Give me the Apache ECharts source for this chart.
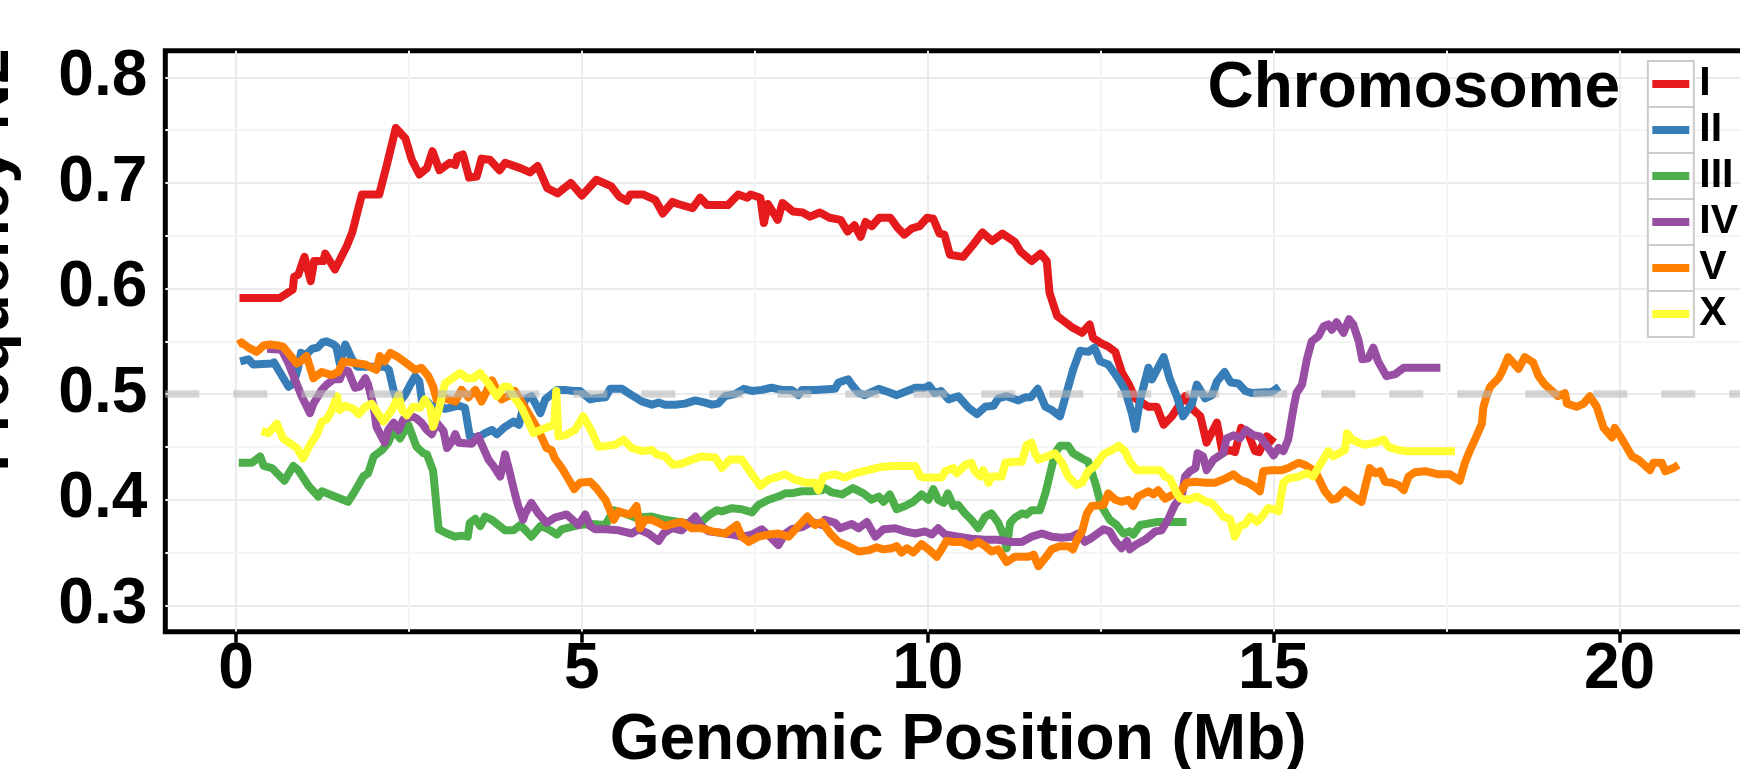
<!DOCTYPE html>
<html>
<head>
<meta charset="utf-8">
<script src="https://cdn.jsdelivr.net/npm/echarts@6/dist/echarts.min.js"></script>
<style>
html,body{margin:0;padding:0;background:#ffffff;}
#chart{width:1740px;height:769px;}
</style>
</head>
<body>
<div id="chart"></div>
<script>
// ---------------- DATA ----------------
const chromosomes = ['I', 'II', 'III', 'IV', 'V', 'X'];
const palette = ['#E41A1C', '#377EB8', '#4DAF4A', '#984EA3', '#FF7F00', '#FFFF33'];

// [genomic position (Mb), frequency N2]
const chrI = [[0.05,0.591],[0.63,0.591],[0.82,0.599],[0.84,0.611],[0.90,0.613],[0.99,0.630],[1.08,0.607],[1.13,0.626],[1.26,0.626],[1.29,0.633],[1.43,0.618],[1.60,0.640],[1.68,0.653],[1.82,0.689],[2.07,0.689],[2.18,0.717],[2.31,0.752],[2.45,0.742],[2.54,0.722],[2.65,0.708],[2.76,0.714],[2.84,0.730],[2.94,0.712],[3.09,0.719],[3.17,0.717],[3.20,0.725],[3.28,0.727],[3.37,0.705],[3.48,0.706],[3.55,0.723],[3.67,0.722],[3.81,0.712],[3.89,0.719],[4.11,0.714],[4.25,0.710],[4.36,0.716],[4.50,0.695],[4.65,0.690],[4.84,0.700],[5.00,0.688],[5.21,0.703],[5.42,0.697],[5.54,0.687],[5.65,0.683],[5.70,0.689],[5.89,0.689],[6.06,0.684],[6.17,0.671],[6.31,0.682],[6.39,0.680],[6.60,0.676],[6.71,0.686],[6.81,0.679],[7.11,0.679],[7.26,0.689],[7.39,0.686],[7.44,0.689],[7.58,0.686],[7.63,0.662],[7.69,0.680],[7.83,0.665],[7.90,0.681],[8.05,0.673],[8.19,0.672],[8.30,0.668],[8.44,0.672],[8.58,0.667],[8.74,0.665],[8.84,0.654],[8.94,0.660],[9.03,0.649],[9.10,0.663],[9.19,0.659],[9.30,0.667],[9.46,0.667],[9.57,0.657],[9.66,0.651],[9.77,0.657],[9.88,0.659],[9.99,0.667],[10.08,0.666],[10.17,0.652],[10.24,0.651],[10.32,0.632],[10.51,0.630],[10.65,0.641],[10.79,0.653],[10.93,0.645],[11.08,0.652],[11.26,0.644],[11.34,0.635],[11.50,0.626],[11.63,0.633],[11.72,0.626],[11.76,0.596],[11.87,0.574],[12.01,0.567],[12.09,0.563],[12.23,0.558],[12.34,0.566],[12.39,0.553],[12.51,0.548],[12.61,0.545],[12.71,0.540],[12.81,0.520],[12.90,0.510],[13.00,0.496],[13.19,0.488],[13.31,0.488],[13.41,0.471],[13.53,0.479],[13.72,0.498],[13.84,0.485],[13.94,0.479],[14.03,0.454],[14.18,0.473],[14.26,0.445],[14.37,0.447],[14.44,0.445],[14.53,0.468],[14.63,0.463],[14.73,0.446],[14.79,0.445],[14.90,0.460],[15.01,0.454]];

const chrII = [[0.06,0.531],[0.18,0.533],[0.25,0.528],[0.52,0.529],[0.55,0.530],[0.64,0.520],[0.76,0.507],[0.83,0.510],[0.89,0.523],[0.94,0.539],[1.01,0.537],[1.10,0.543],[1.18,0.544],[1.25,0.549],[1.31,0.550],[1.41,0.547],[1.45,0.545],[1.50,0.529],[1.58,0.547],[1.67,0.534],[1.75,0.526],[1.96,0.526],[2.15,0.526],[2.21,0.523],[2.28,0.503],[2.35,0.492],[2.44,0.499],[2.52,0.509],[2.59,0.517],[2.65,0.512],[2.69,0.492],[2.76,0.493],[2.83,0.488],[2.93,0.490],[3.02,0.486],[3.22,0.489],[3.31,0.487],[3.38,0.460],[3.50,0.459],[3.60,0.463],[3.70,0.466],[3.77,0.462],[3.89,0.469],[4.01,0.474],[4.09,0.471],[4.18,0.495],[4.27,0.498],[4.40,0.482],[4.47,0.495],[4.64,0.504],[4.76,0.504],[4.88,0.503],[4.97,0.503],[5.12,0.495],[5.19,0.496],[5.34,0.497],[5.41,0.505],[5.58,0.505],[5.72,0.499],[5.87,0.493],[6.01,0.490],[6.11,0.492],[6.20,0.490],[6.35,0.490],[6.49,0.491],[6.64,0.494],[6.78,0.492],[6.88,0.490],[6.97,0.491],[7.07,0.498],[7.21,0.500],[7.34,0.505],[7.46,0.503],[7.60,0.504],[7.74,0.506],[7.89,0.504],[8.03,0.504],[8.13,0.499],[8.18,0.504],[8.37,0.504],[8.66,0.505],[8.71,0.511],[8.85,0.514],[8.90,0.509],[9.00,0.501],[9.09,0.499],[9.29,0.505],[9.43,0.502],[9.55,0.499],[9.70,0.503],[9.82,0.506],[9.96,0.506],[10.02,0.508],[10.10,0.501],[10.19,0.503],[10.30,0.495],[10.44,0.498],[10.59,0.487],[10.71,0.481],[10.83,0.488],[10.95,0.489],[11.02,0.496],[11.14,0.498],[11.31,0.494],[11.41,0.497],[11.49,0.497],[11.59,0.505],[11.70,0.488],[11.79,0.485],[11.91,0.479],[11.98,0.495],[12.10,0.523],[12.20,0.541],[12.32,0.540],[12.41,0.544],[12.49,0.531],[12.61,0.528],[12.76,0.514],[12.85,0.504],[12.95,0.482],[13.00,0.467],[13.07,0.495],[13.19,0.525],[13.24,0.514],[13.41,0.535],[13.50,0.514],[13.60,0.498],[13.69,0.479],[13.82,0.491],[13.89,0.509],[14.01,0.496],[14.11,0.499],[14.18,0.512],[14.29,0.521],[14.38,0.511],[14.49,0.510],[14.59,0.503],[14.68,0.501],[14.97,0.502],[15.08,0.507]];

const chrIII = [[0.04,0.435],[0.23,0.435],[0.35,0.441],[0.40,0.432],[0.52,0.430],[0.70,0.418],[0.83,0.432],[0.90,0.428],[1.05,0.413],[1.19,0.403],[1.24,0.408],[1.62,0.398],[1.70,0.406],[1.77,0.414],[1.84,0.422],[1.91,0.425],[1.99,0.441],[2.11,0.447],[2.20,0.454],[2.28,0.466],[2.37,0.458],[2.49,0.471],[2.61,0.450],[2.71,0.444],[2.76,0.443],[2.85,0.427],[2.93,0.372],[3.05,0.368],[3.17,0.365],[3.26,0.366],[3.35,0.365],[3.38,0.378],[3.46,0.382],[3.53,0.375],[3.60,0.384],[3.70,0.381],[3.89,0.371],[4.01,0.371],[4.11,0.376],[4.20,0.370],[4.27,0.365],[4.40,0.375],[4.52,0.372],[4.64,0.367],[4.71,0.372],[4.95,0.376],[5.14,0.377],[5.34,0.376],[5.46,0.390],[5.62,0.387],[5.77,0.383],[6.01,0.384],[6.20,0.381],[6.40,0.379],[6.59,0.377],[6.73,0.379],[6.85,0.386],[6.95,0.390],[7.02,0.389],[7.17,0.392],[7.31,0.391],[7.46,0.388],[7.55,0.395],[7.70,0.400],[7.84,0.403],[7.94,0.406],[8.03,0.406],[8.18,0.408],[8.32,0.408],[8.47,0.409],[8.51,0.411],[8.61,0.407],[8.76,0.405],[8.92,0.411],[9.07,0.406],[9.19,0.400],[9.29,0.403],[9.36,0.398],[9.45,0.405],[9.55,0.391],[9.67,0.394],[9.79,0.398],[9.91,0.405],[10.01,0.400],[10.08,0.410],[10.15,0.400],[10.23,0.397],[10.29,0.406],[10.37,0.394],[10.44,0.395],[10.54,0.387],[10.63,0.381],[10.73,0.373],[10.83,0.384],[10.92,0.387],[11.02,0.378],[11.09,0.367],[11.14,0.354],[11.19,0.378],[11.26,0.383],[11.36,0.387],[11.43,0.386],[11.50,0.390],[11.62,0.390],[11.70,0.406],[11.77,0.425],[11.84,0.444],[11.91,0.451],[12.03,0.451],[12.10,0.444],[12.23,0.439],[12.32,0.436],[12.42,0.416],[12.51,0.394],[12.63,0.381],[12.73,0.376],[12.83,0.368],[12.92,0.370],[12.97,0.367],[13.07,0.376],[13.33,0.379],[13.74,0.379]];

const chrIV = [[0.45,0.543],[0.66,0.542],[0.76,0.529],[0.85,0.514],[0.95,0.498],[1.07,0.482],[1.12,0.491],[1.24,0.504],[1.31,0.509],[1.41,0.514],[1.50,0.514],[1.55,0.523],[1.62,0.522],[1.72,0.506],[1.79,0.507],[1.87,0.515],[1.91,0.509],[1.99,0.488],[2.03,0.469],[2.15,0.454],[2.20,0.466],[2.28,0.473],[2.35,0.466],[2.42,0.476],[2.54,0.479],[2.61,0.477],[2.68,0.473],[2.76,0.466],[2.83,0.462],[2.90,0.473],[3.00,0.465],[3.05,0.449],[3.12,0.455],[3.17,0.462],[3.22,0.454],[3.41,0.453],[3.50,0.460],[3.65,0.438],[3.72,0.432],[3.82,0.422],[3.89,0.443],[3.96,0.425],[4.03,0.406],[4.08,0.394],[4.15,0.381],[4.18,0.387],[4.27,0.397],[4.37,0.387],[4.49,0.378],[4.61,0.383],[4.78,0.386],[4.90,0.379],[4.95,0.376],[5.05,0.386],[5.12,0.375],[5.19,0.372],[5.34,0.372],[5.53,0.371],[5.72,0.368],[5.82,0.372],[5.96,0.368],[6.11,0.361],[6.18,0.368],[6.30,0.373],[6.44,0.371],[6.64,0.384],[6.73,0.375],[6.83,0.370],[6.97,0.369],[7.17,0.367],[7.31,0.365],[7.46,0.367],[7.60,0.372],[7.72,0.365],[7.84,0.357],[7.94,0.368],[8.03,0.372],[8.18,0.374],[8.32,0.379],[8.47,0.376],[8.51,0.381],[8.66,0.378],[8.73,0.373],[8.90,0.377],[9.00,0.373],[9.12,0.379],[9.24,0.365],[9.36,0.372],[9.53,0.373],[9.67,0.370],[9.82,0.368],[9.96,0.370],[10.06,0.367],[10.15,0.373],[10.25,0.367],[10.44,0.365],[10.63,0.363],[10.83,0.362],[11.02,0.362],[11.21,0.360],[11.36,0.360],[11.50,0.365],[11.65,0.368],[11.79,0.365],[11.94,0.364],[12.08,0.365],[12.18,0.368],[12.27,0.360],[12.37,0.364],[12.54,0.372],[12.63,0.370],[12.71,0.361],[12.80,0.354],[12.88,0.361],[12.92,0.353],[13.00,0.357],[13.14,0.362],[13.29,0.370],[13.38,0.371],[13.48,0.382],[13.57,0.395],[13.67,0.403],[13.72,0.422],[13.79,0.427],[13.87,0.430],[13.90,0.444],[13.98,0.441],[14.03,0.428],[14.08,0.433],[14.13,0.438],[14.20,0.441],[14.27,0.444],[14.32,0.458],[14.42,0.461],[14.51,0.458],[14.60,0.466],[14.71,0.461],[14.80,0.460],[14.88,0.453],[15.00,0.442],[15.07,0.449],[15.14,0.446],[15.21,0.457],[15.29,0.488],[15.33,0.501],[15.41,0.509],[15.48,0.533],[15.55,0.550],[15.65,0.555],[15.72,0.564],[15.79,0.566],[15.84,0.561],[15.91,0.568],[16.01,0.558],[16.09,0.571],[16.15,0.566],[16.23,0.550],[16.28,0.533],[16.37,0.534],[16.44,0.544],[16.51,0.531],[16.63,0.517],[16.76,0.519],[16.88,0.525],[17.41,0.525]];

const chrV = [[0.03,0.547],[0.08,0.549],[0.18,0.544],[0.30,0.540],[0.40,0.546],[0.49,0.547],[0.61,0.546],[0.68,0.545],[0.78,0.537],[0.88,0.529],[0.93,0.531],[1.02,0.536],[1.12,0.515],[1.24,0.521],[1.38,0.518],[1.48,0.521],[1.55,0.531],[1.67,0.530],[1.87,0.528],[2.03,0.523],[2.08,0.536],[2.15,0.531],[2.23,0.539],[2.32,0.536],[2.47,0.529],[2.59,0.523],[2.68,0.525],[2.78,0.517],[2.85,0.507],[2.90,0.495],[3.02,0.496],[3.17,0.493],[3.26,0.504],[3.36,0.497],[3.46,0.504],[3.55,0.493],[3.70,0.513],[3.84,0.495],[3.96,0.499],[4.03,0.503],[4.18,0.487],[4.27,0.477],[4.37,0.466],[4.49,0.449],[4.56,0.447],[4.61,0.439],[4.71,0.430],[4.80,0.420],[4.89,0.410],[4.97,0.416],[5.12,0.417],[5.21,0.411],[5.34,0.400],[5.41,0.389],[5.46,0.381],[5.53,0.389],[5.62,0.387],[5.70,0.386],[5.79,0.394],[5.84,0.373],[5.91,0.381],[6.01,0.381],[6.11,0.378],[6.20,0.375],[6.30,0.377],[6.44,0.379],[6.59,0.373],[6.73,0.373],[6.88,0.370],[7.07,0.368],[7.24,0.376],[7.31,0.365],[7.41,0.360],[7.55,0.365],[7.70,0.367],[7.84,0.368],[7.99,0.365],[8.13,0.375],[8.26,0.384],[8.37,0.376],[8.47,0.379],[8.59,0.368],[8.71,0.360],[8.85,0.356],[9.00,0.351],[9.14,0.352],[9.26,0.355],[9.36,0.353],[9.48,0.354],[9.55,0.356],[9.62,0.350],[9.70,0.354],[9.79,0.350],[9.91,0.358],[10.01,0.353],[10.13,0.346],[10.20,0.353],[10.27,0.361],[10.37,0.360],[10.49,0.360],[10.63,0.356],[10.73,0.360],[10.83,0.356],[10.92,0.351],[11.02,0.353],[11.14,0.341],[11.26,0.346],[11.36,0.346],[11.45,0.346],[11.53,0.348],[11.60,0.337],[11.70,0.345],[11.79,0.353],[11.91,0.356],[12.03,0.356],[12.10,0.353],[12.17,0.364],[12.23,0.370],[12.30,0.387],[12.37,0.394],[12.54,0.395],[12.61,0.406],[12.71,0.400],[12.80,0.398],[12.90,0.400],[12.97,0.394],[13.04,0.403],[13.19,0.408],[13.26,0.405],[13.33,0.409],[13.43,0.401],[13.55,0.405],[13.65,0.407],[13.74,0.416],[13.86,0.417],[14.01,0.416],[14.15,0.416],[14.30,0.420],[14.42,0.424],[14.51,0.419],[14.63,0.416],[14.73,0.412],[14.80,0.408],[14.85,0.427],[14.97,0.428],[15.12,0.428],[15.21,0.430],[15.36,0.435],[15.45,0.433],[15.60,0.427],[15.74,0.408],[15.84,0.400],[15.91,0.401],[16.03,0.409],[16.15,0.403],[16.27,0.398],[16.39,0.430],[16.47,0.425],[16.54,0.427],[16.61,0.417],[16.71,0.416],[16.80,0.414],[16.88,0.409],[16.95,0.422],[17.04,0.426],[17.19,0.427],[17.38,0.424],[17.55,0.424],[17.69,0.418],[17.77,0.436],[17.84,0.447],[17.93,0.460],[18.01,0.472],[18.03,0.487],[18.08,0.499],[18.13,0.507],[18.25,0.515],[18.30,0.521],[18.39,0.535],[18.54,0.524],[18.63,0.535],[18.75,0.530],[18.83,0.517],[18.92,0.509],[19.11,0.498],[19.21,0.501],[19.24,0.491],[19.38,0.488],[19.48,0.491],[19.57,0.498],[19.67,0.488],[19.77,0.468],[19.89,0.459],[19.93,0.468],[20.03,0.458],[20.18,0.441],[20.27,0.438],[20.44,0.428],[20.49,0.435],[20.61,0.435],[20.66,0.427],[20.78,0.430],[20.85,0.433]];

const chrX = [[0.37,0.465],[0.47,0.463],[0.59,0.472],[0.68,0.458],[0.88,0.449],[0.97,0.439],[1.07,0.452],[1.17,0.462],[1.24,0.474],[1.31,0.476],[1.38,0.484],[1.46,0.498],[1.50,0.485],[1.58,0.489],[1.70,0.486],[1.77,0.481],[1.87,0.488],[1.96,0.491],[2.03,0.484],[2.13,0.474],[2.20,0.480],[2.28,0.488],[2.35,0.499],[2.40,0.485],[2.47,0.480],[2.56,0.488],[2.66,0.487],[2.73,0.495],[2.81,0.487],[2.85,0.469],[2.93,0.485],[3.02,0.510],[3.17,0.517],[3.24,0.520],[3.34,0.515],[3.43,0.515],[3.53,0.520],[3.65,0.510],[3.77,0.498],[3.87,0.507],[3.94,0.507],[4.01,0.498],[4.13,0.487],[4.23,0.473],[4.30,0.463],[4.40,0.466],[4.52,0.469],[4.60,0.471],[4.63,0.503],[4.66,0.460],[4.76,0.461],[4.90,0.466],[5.02,0.479],[5.14,0.465],[5.24,0.450],[5.36,0.451],[5.48,0.452],[5.60,0.457],[5.72,0.449],[5.87,0.446],[6.01,0.447],[6.08,0.443],[6.20,0.441],[6.32,0.433],[6.44,0.434],[6.59,0.438],[6.73,0.441],[6.93,0.440],[7.02,0.430],[7.14,0.438],[7.31,0.438],[7.46,0.424],[7.58,0.413],[7.70,0.419],[7.94,0.424],[8.08,0.419],[8.25,0.416],[8.37,0.416],[8.42,0.409],[8.49,0.422],[8.66,0.424],[8.80,0.421],[8.95,0.425],[9.14,0.428],[9.33,0.431],[9.48,0.432],[9.82,0.432],[9.89,0.422],[9.96,0.421],[10.20,0.421],[10.25,0.427],[10.37,0.430],[10.42,0.425],[10.54,0.433],[10.63,0.435],[10.68,0.427],[10.76,0.422],[10.80,0.428],[10.88,0.416],[10.92,0.422],[11.07,0.422],[11.12,0.435],[11.26,0.436],[11.36,0.436],[11.43,0.452],[11.50,0.454],[11.55,0.444],[11.60,0.438],[11.72,0.441],[11.84,0.444],[11.94,0.435],[12.03,0.422],[12.15,0.414],[12.23,0.416],[12.32,0.427],[12.42,0.432],[12.54,0.443],[12.66,0.447],[12.76,0.451],[12.85,0.446],[12.92,0.436],[13.02,0.428],[13.36,0.428],[13.43,0.422],[13.50,0.420],[13.60,0.406],[13.65,0.401],[13.77,0.400],[13.89,0.403],[14.03,0.398],[14.10,0.397],[14.20,0.390],[14.27,0.384],[14.37,0.382],[14.44,0.365],[14.51,0.375],[14.59,0.377],[14.66,0.384],[14.76,0.379],[14.83,0.384],[14.92,0.392],[15.00,0.391],[15.07,0.389],[15.14,0.416],[15.21,0.420],[15.36,0.422],[15.48,0.425],[15.57,0.422],[15.65,0.431],[15.79,0.446],[15.86,0.441],[16.03,0.447],[16.06,0.463],[16.13,0.457],[16.23,0.454],[16.32,0.452],[16.47,0.454],[16.59,0.457],[16.66,0.450],[16.80,0.447],[16.92,0.446],[17.62,0.446]];

// axes
const xTicks = [0, 5, 10, 15, 20];
const yTicks = [0.3, 0.4, 0.5, 0.6, 0.7, 0.8];
const xMinorGrid = [2.5, 7.5, 12.5, 17.5];
const yMinorGrid = [0.35, 0.45, 0.55, 0.65, 0.75];
const xRange = [-1.022, 21.9];
const yRange = [0.275, 0.8252];
const refLevel = 0.5;

const xTitle = 'Genomic Position (Mb)';
const yTitle = 'Frequency N2';
const legendTitle = 'Chromosome';

// ---------------- CHART ----------------
const FONT = '"Liberation Sans", Arial, Helvetica, sans-serif';
const BIG = 64;
const seriesValues = [chrI, chrII, chrIII, chrIV, chrV, chrX];

const chart = echarts.init(document.getElementById('chart'));

const lineSeries = seriesValues.map((d, i) => ({
  name: chromosomes[i],
  type: 'line',
  data: d,
  symbol: 'none',
  showSymbol: false,
  silent: true,
  color: palette[i],
  lineStyle: {color: palette[i], width: 8, join: 'round', cap: 'butt'},
  emphasis: {disabled: true}
}));

const option = {
  animation: false,
  backgroundColor: '#ffffff',
  textStyle: {fontFamily: FONT},
  grid: {
    left: 165.3, top: 50.7, right: -11, bottom: 137.3,
    show: true, borderColor: '#000000', borderWidth: 5,
    backgroundColor: 'transparent',
    containLabel: false,
    outerBoundsMode: 'none'
  },
  title: {
    text: legendTitle,
    right: 120, top: 57.8, padding: 0,
    textStyle: {fontSize: BIG, fontWeight: 'bold', fontFamily: FONT, color: '#000', lineHeight: 64}
  },
  legend: [
    {
      // key boxes
      data: chromosomes,
      orient: 'vertical',
      left: 1646.8, top: 60, padding: 0,
      itemWidth: 46, itemHeight: 46, itemGap: -2,
      icon: 'rect',
      selectedMode: false,
      z: 3,
      formatter: () => '',
      itemStyle: {color: '#ffffff', borderColor: '#cccccc', borderWidth: 2},
      textStyle: {fontSize: 8}
    },
    {
      data: chromosomes,
      orient: 'vertical',
      left: 1652.3, top: 61, padding: 0,
      itemWidth: 37, itemHeight: 8, itemGap: 0,
      icon: 'rect',
      selectedMode: false,
      z: 4,
      itemStyle: {borderWidth: 0},
      textStyle: {fontSize: 41, fontWeight: 'bold', fontFamily: FONT, color: '#000', lineHeight: 46, padding: [0, 0, 0, 5]}
    }
  ],
  xAxis: {
    type: 'value',
    min: xRange[0], max: xRange[1],
    axisLine: {show: false},
    axisTick: {show: true, length: 11, customValues: xTicks, lineStyle: {color: '#000', width: 3.5}},
    axisLabel: {
      customValues: xTicks, margin: 7,
      fontSize: BIG, fontWeight: 'bold', fontFamily: FONT, color: '#000'
    },
    splitLine: {show: true, lineStyle: {color: '#ebebeb', width: 2}},
    name: xTitle, nameLocation: 'middle', nameGap: 78,
    nameTextStyle: {fontSize: BIG, fontWeight: 'bold', fontFamily: FONT, color: '#000', lineHeight: 64}
  },
  yAxis: {
    type: 'value',
    min: yRange[0], max: yRange[1],
    axisLine: {show: false},
    axisTick: {show: false, customValues: yTicks},
    axisLabel: {
      customValues: yTicks, margin: 18,
      formatter: v => v.toFixed(1),
      fontSize: BIG, fontWeight: 'bold', fontFamily: FONT, color: '#000'
    },
    splitLine: {show: true, lineStyle: {color: '#ebebeb', width: 2}}
  },
  graphic: [{
    type: 'text',
    x: -9.2, y: 260,
    rotation: Math.PI / 2,
    z: 10,
    style: {
      text: yTitle,
      fill: '#000',
      font: 'bold 64px "Liberation Sans", Arial, sans-serif',
      textAlign: 'center', textVerticalAlign: 'middle',
      align: 'center', verticalAlign: 'middle'
    }
  }],
  series: [
    {
      name: 'minor-grid', type: 'line', data: [], z: 1, silent: true,
      markLine: {
        silent: true, z: 1, animation: false,
        symbol: ['none', 'none'],
        label: {show: false},
        emphasis: {disabled: true},
        lineStyle: {color: '#f5f5f5', width: 2, type: 'solid'},
        data: [...xMinorGrid.map(v => ({xAxis: v})), ...yMinorGrid.map(v => ({yAxis: v}))]
      }
    },
    ...lineSeries,
    {
      name: 'reference', type: 'line', data: [], z: 6, silent: true,
      markLine: {
        silent: true, z: 6, animation: false,
        symbol: ['none', 'none'],
        label: {show: false},
        emphasis: {disabled: true},
        lineStyle: {color: 'rgba(185,185,185,0.58)', width: 7.5, type: [34, 34], cap: 'butt'},
        data: [{yAxis: refLevel}]
      }
    }
  ]
};

chart.setOption(option);
</script>
</body>
</html>
